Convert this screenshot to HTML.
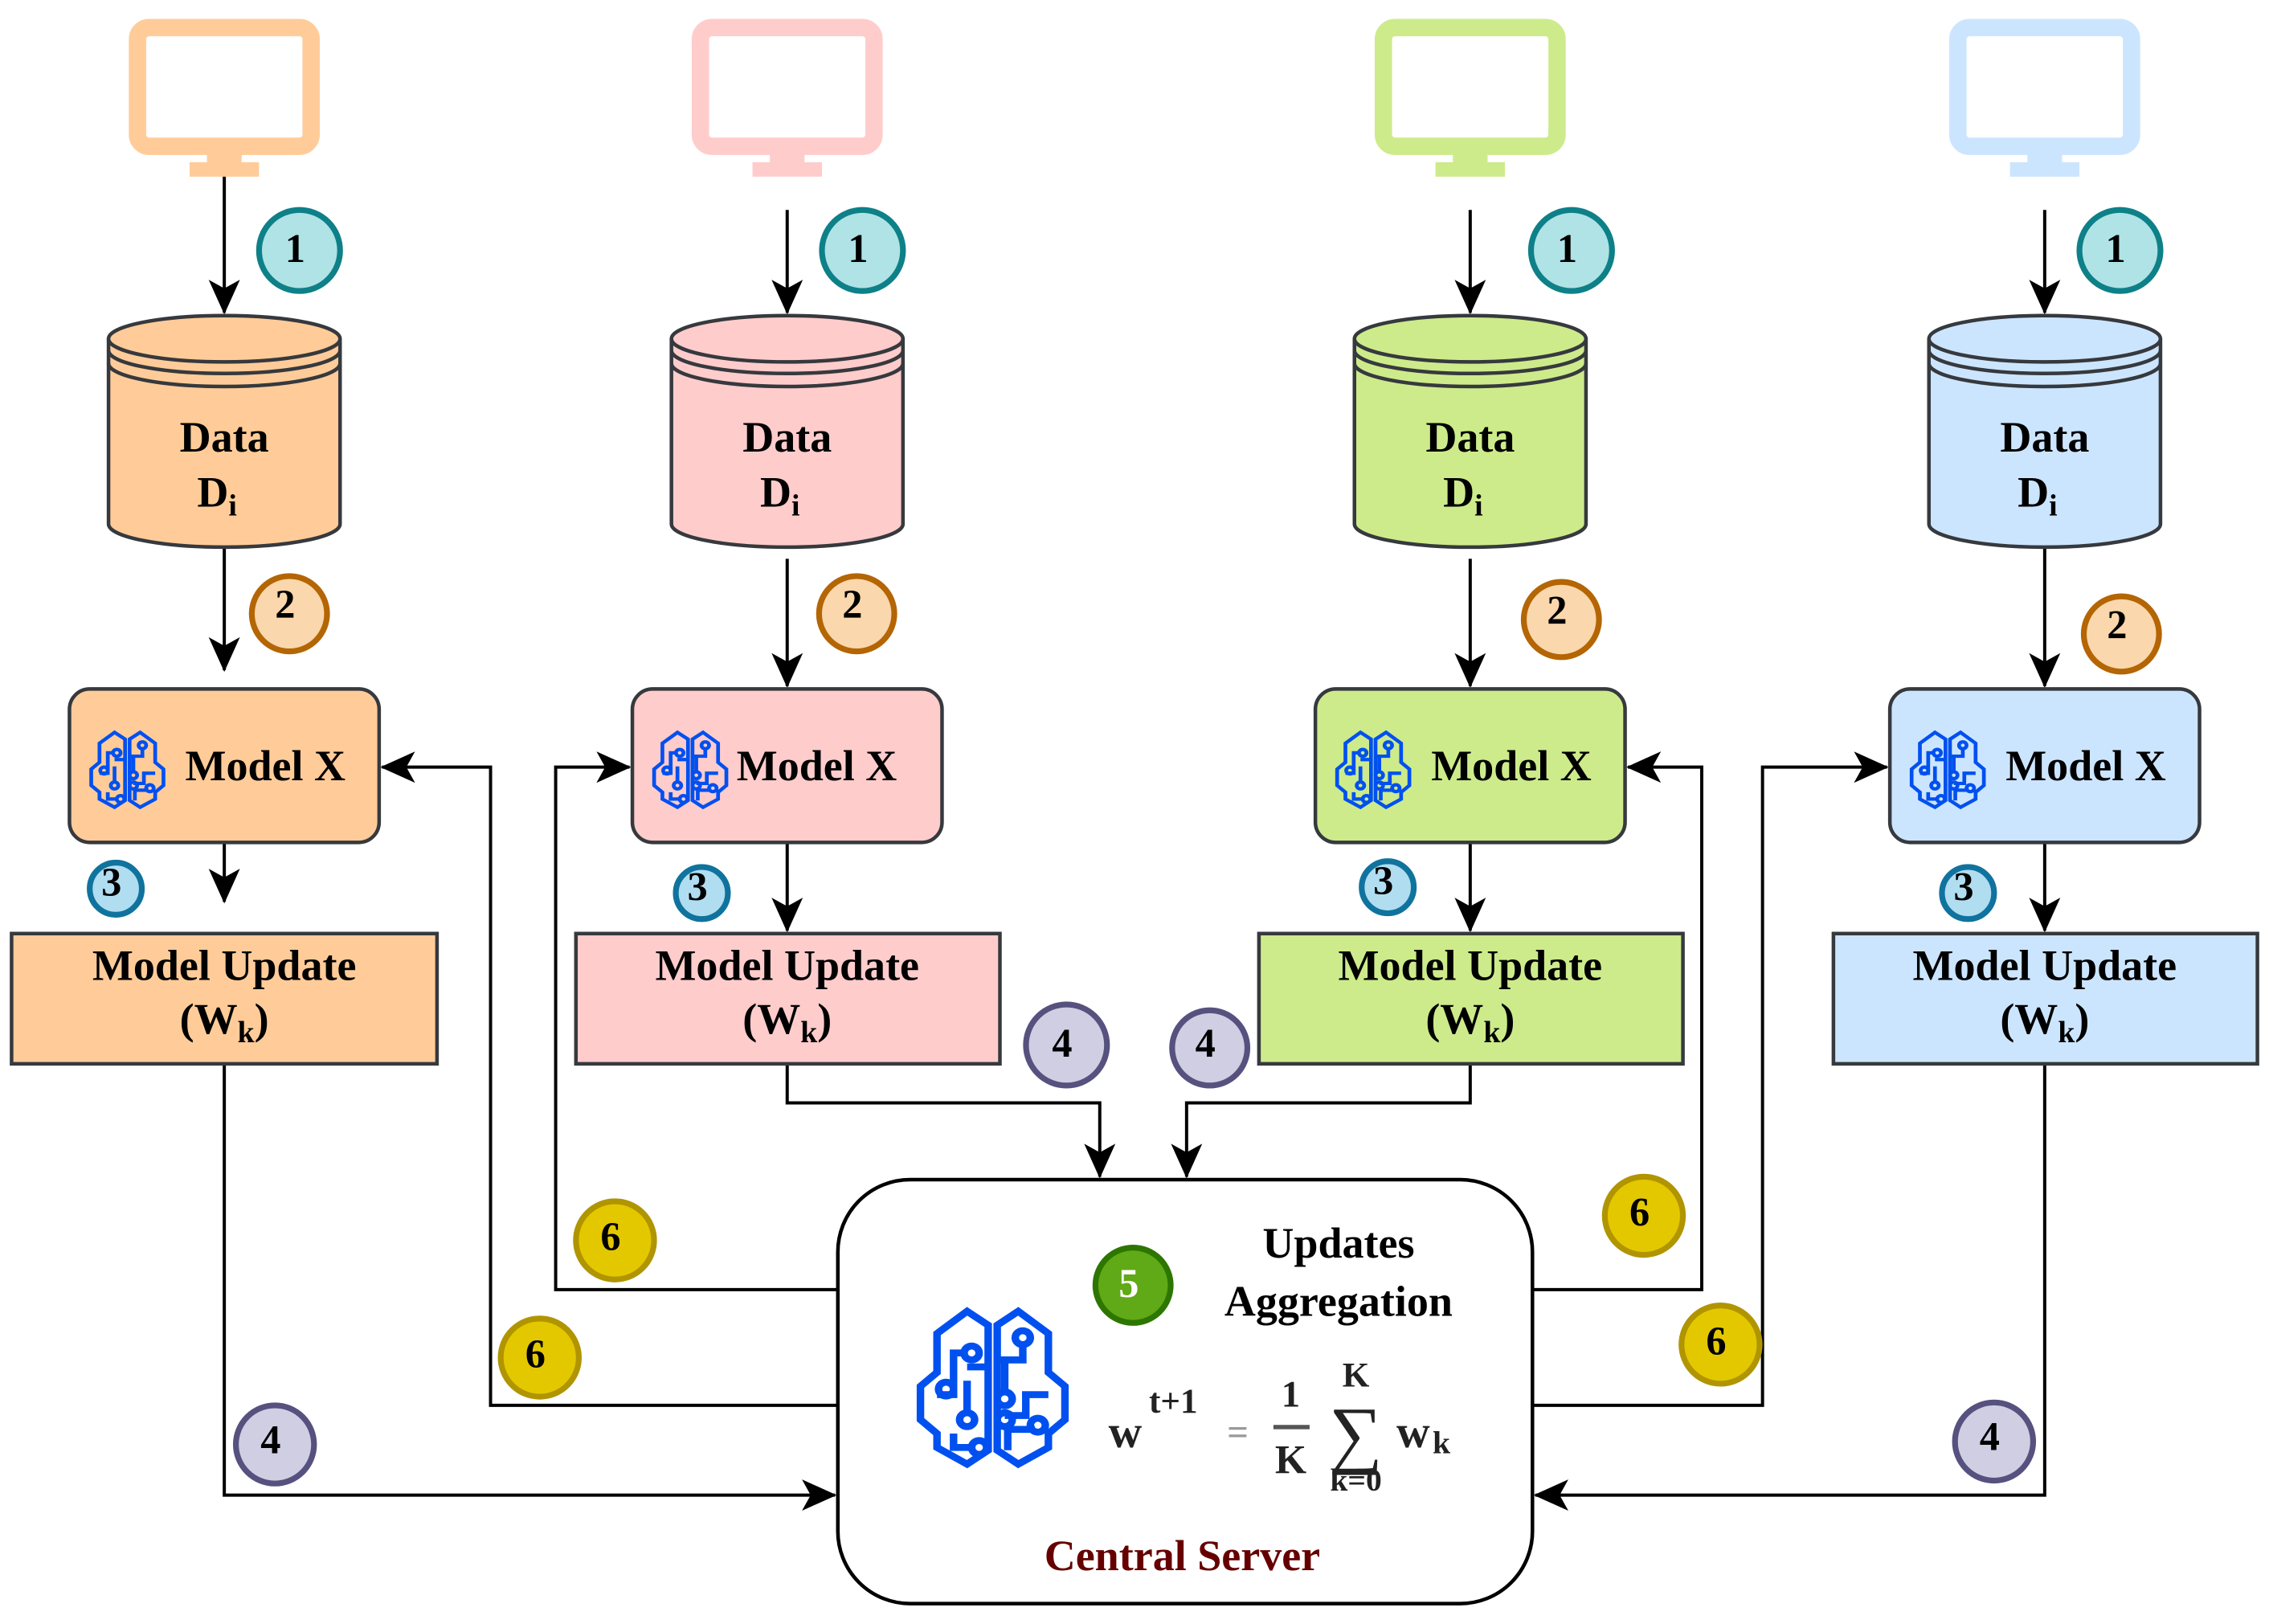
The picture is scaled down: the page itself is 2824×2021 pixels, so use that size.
<!DOCTYPE html>
<html><head><meta charset="utf-8"><style>
html,body{margin:0;padding:0;background:#fff}
svg{display:block}
text{font-family:"Liberation Serif","Times New Roman","DejaVu Serif",serif;font-weight:bold;fill:#000}
</style></head><body>
<svg width="2824" height="2021" viewBox="0 0 1568 1122" xmlns="http://www.w3.org/2000/svg" font-family="Liberation Serif, serif">
<defs>
<marker id="ah" markerUnits="userSpaceOnUse" markerWidth="24" markerHeight="24" viewBox="0 0 20 20" refX="19" refY="10" orient="auto">
<path d="M0,1 L20,10 L0,19 L5,10 Z" fill="#000"/>
</marker>
<g id="brain" fill="none" stroke="#0050ef" stroke-width="5" stroke-linejoin="miter">
<path d="M47,10 L33,0 L13,16 L13,44 L2,54 L2,78 L13,88 L13,98 L33,110 L47,100 Z"/>
<path d="M53,10 L67,0 L87,16 L87,44 L98,54 L98,78 L87,88 L87,98 L67,110 L53,100 Z"/>
<path d="M13,60 L24,60 L24,30 L33,30 M33,50 L33,75 M47,40 L33,40 M24,88 L24,98 L38,98 M53,35 L70,35 L70,22 M58,35 L58,60 M87,60 L72,60 L72,75 L58,75 M60,100 L60,85 L78,85"/>
<circle cx="36" cy="30" r="5"/><circle cx="19" cy="56" r="5"/><circle cx="33" cy="78" r="5"/><circle cx="41" cy="98" r="5"/>
<circle cx="70" cy="19" r="5"/><circle cx="58" cy="63" r="5"/><circle cx="58" cy="78" r="5"/><circle cx="80" cy="82" r="5"/>
</g>
</defs>

<g stroke-width="12" fill="none">
<rect x="95" y="19" width="120" height="82" rx="8" stroke="#FFCC99"/>
<rect x="484" y="19" width="120" height="82" rx="8" stroke="#FFCCCC"/>
<rect x="956" y="19" width="120" height="82" rx="8" stroke="#CDEB8B"/>
<rect x="1353" y="19" width="120" height="82" rx="8" stroke="#CCE5FF"/>
</g>
<g>
<rect x="143" y="100" width="24" height="14" fill="#FFCC99"/><rect x="131" y="112" width="48" height="10" fill="#FFCC99"/>
<rect x="532" y="100" width="24" height="14" fill="#FFCCCC"/><rect x="520" y="112" width="48" height="10" fill="#FFCCCC"/>
<rect x="1004" y="100" width="24" height="14" fill="#CDEB8B"/><rect x="992" y="112" width="48" height="10" fill="#CDEB8B"/>
<rect x="1401" y="100" width="24" height="14" fill="#CCE5FF"/><rect x="1389" y="112" width="48" height="10" fill="#CCE5FF"/>
</g>

<g stroke="#000" stroke-width="2.2" fill="none" marker-end="url(#ah)">
<line x1="155" y1="122" x2="155" y2="216"/>
<line x1="544" y1="145" x2="544" y2="216"/>
<line x1="1016" y1="145" x2="1016" y2="216"/>
<line x1="1413" y1="145" x2="1413" y2="216"/>
<line x1="155" y1="378" x2="155" y2="463"/>
<line x1="544" y1="386" x2="544" y2="474"/>
<line x1="1016" y1="386" x2="1016" y2="474"/>
<line x1="1413" y1="378" x2="1413" y2="474"/>
<line x1="155" y1="582" x2="155" y2="623"/>
<line x1="544" y1="582" x2="544" y2="643"/>
<line x1="1016" y1="582" x2="1016" y2="643"/>
<line x1="1413" y1="582" x2="1413" y2="643"/>
<polyline points="155,735 155,1033 577,1033"/>
<polyline points="544,735 544,762 760,762 760,813"/>
<polyline points="1016,735 1016,762 820,762 820,813"/>
<polyline points="1413,735 1413,1033 1061,1033"/>
<polyline points="579,971 339,971 339,530 264,530"/>
<polyline points="579,891 384,891 384,530 435,530"/>
<polyline points="1059,891 1176,891 1176,530 1125,530"/>
<polyline points="1059,971 1218,971 1218,530 1304,530"/>
</g>

<g stroke="#36393d" stroke-width="2.5">
<g fill="#FFCC99"><path d="M75,234 L75,362 A80,16 0 0 0 235,362 L235,234"/><ellipse cx="155" cy="234" rx="80" ry="16"/><path d="M75,242 A80,16 0 0 0 235,242 M75,251 A80,16 0 0 0 235,251" fill="none"/></g>
<g fill="#FFCCCC" transform="translate(389,0)"><path d="M75,234 L75,362 A80,16 0 0 0 235,362 L235,234"/><ellipse cx="155" cy="234" rx="80" ry="16"/><path d="M75,242 A80,16 0 0 0 235,242 M75,251 A80,16 0 0 0 235,251" fill="none"/></g>
<g fill="#CDEB8B" transform="translate(861,0)"><path d="M75,234 L75,362 A80,16 0 0 0 235,362 L235,234"/><ellipse cx="155" cy="234" rx="80" ry="16"/><path d="M75,242 A80,16 0 0 0 235,242 M75,251 A80,16 0 0 0 235,251" fill="none"/></g>
<g fill="#CCE5FF" transform="translate(1258,0)"><path d="M75,234 L75,362 A80,16 0 0 0 235,362 L235,234"/><ellipse cx="155" cy="234" rx="80" ry="16"/><path d="M75,242 A80,16 0 0 0 235,242 M75,251 A80,16 0 0 0 235,251" fill="none"/></g>
</g>
<g font-size="30" text-anchor="middle">
<text x="155" y="312">Data</text><text x="150" y="350">D<tspan font-size="21" dy="6">i</tspan></text>
<text x="544" y="312">Data</text><text x="539" y="350">D<tspan font-size="21" dy="6">i</tspan></text>
<text x="1016" y="312">Data</text><text x="1011" y="350">D<tspan font-size="21" dy="6">i</tspan></text>
<text x="1413" y="312">Data</text><text x="1408" y="350">D<tspan font-size="21" dy="6">i</tspan></text>
</g>

<g stroke="#36393d" stroke-width="2.5">
<rect x="48" y="476" width="214" height="106" rx="14" fill="#FFCC99"/>
<rect x="437" y="476" width="214" height="106" rx="14" fill="#FFCCCC"/>
<rect x="909" y="476" width="214" height="106" rx="14" fill="#CDEB8B"/>
<rect x="1306" y="476" width="214" height="106" rx="14" fill="#CCE5FF"/>
</g>
<use href="#brain" transform="translate(62,506) scale(0.52,0.47)"/>
<use href="#brain" transform="translate(451,506) scale(0.52,0.47)"/>
<use href="#brain" transform="translate(923,506) scale(0.52,0.47)"/>
<use href="#brain" transform="translate(1320,506) scale(0.52,0.47)"/>
<g font-size="30">
<text x="128" y="539">Model X</text>
<text x="509" y="539">Model X</text>
<text x="989" y="539">Model X</text>
<text x="1386" y="539">Model X</text>
</g>

<g stroke="#36393d" stroke-width="2.5">
<rect x="8" y="645" width="294" height="90" fill="#FFCC99"/>
<rect x="398" y="645" width="293" height="90" fill="#FFCCCC"/>
<rect x="870" y="645" width="293" height="90" fill="#CDEB8B"/>
<rect x="1267" y="645" width="293" height="90" fill="#CCE5FF"/>
</g>
<g font-size="30" text-anchor="middle">
<text x="155" y="677">Model Update</text><text x="155" y="714">(W<tspan font-size="21" dy="6">k</tspan><tspan dy="-6">)</tspan></text>
<text x="544" y="677">Model Update</text><text x="544" y="714">(W<tspan font-size="21" dy="6">k</tspan><tspan dy="-6">)</tspan></text>
<text x="1016" y="677">Model Update</text><text x="1016" y="714">(W<tspan font-size="21" dy="6">k</tspan><tspan dy="-6">)</tspan></text>
<text x="1413" y="677">Model Update</text><text x="1413" y="714">(W<tspan font-size="21" dy="6">k</tspan><tspan dy="-6">)</tspan></text>
</g>

<rect x="579" y="815" width="480" height="293" rx="50" fill="#fff" stroke="#000" stroke-width="2.5"/>
<use href="#brain" transform="translate(634,906) scale(1.04,0.96)"/>
<g font-size="30" text-anchor="middle">
<text x="925" y="869">Updates</text>
<text x="925" y="909">Aggregation</text>
<text x="817" y="1085" style="fill:#660000">Central Server</text>
</g>
<g>
<text x="766" y="1000" font-size="32" style="fill:#222">w</text>
<text x="794" y="976" font-size="24" style="fill:#222">t+1</text>
<text x="848" y="998" font-size="26" style="fill:#999">=</text>
<text x="892" y="972" font-size="26" text-anchor="middle" style="fill:#222">1</text>
<line x1="880" y1="986" x2="905" y2="986" stroke="#555" stroke-width="3"/>
<text x="892" y="1018" font-size="28" text-anchor="middle" style="fill:#222">K</text>
<text x="937" y="958" font-size="24" text-anchor="middle" style="fill:#222">K</text>
<text x="937" y="1008" font-size="52" text-anchor="middle" style="fill:#222;font-weight:normal">∑</text>
<text x="937" y="1030" font-size="22" text-anchor="middle" style="fill:#222">k=0</text>
<text x="965" y="1000" font-size="32" style="fill:#222">w</text>
<text x="990" y="1004" font-size="22" style="fill:#222">k</text>
</g>

<g stroke-width="4">
<g fill="#B0E3E6" stroke="#0e8088">
<circle cx="207" cy="173" r="28"/><circle cx="596" cy="173" r="28"/><circle cx="1086" cy="173" r="28"/><circle cx="1465" cy="173" r="28"/>
</g>
<g fill="#FAD7AC" stroke="#b46504">
<circle cx="200" cy="424" r="26"/><circle cx="592" cy="424" r="26"/><circle cx="1079" cy="428" r="26"/><circle cx="1466" cy="438" r="26"/>
</g>
<g fill="#B1DDF0" stroke="#10739e">
<circle cx="80" cy="614" r="18"/><circle cx="485" cy="617" r="18"/><circle cx="959" cy="613" r="18"/><circle cx="1360" cy="617" r="18"/>
</g>
<g fill="#D0CEE2" stroke="#56517e">
<circle cx="737" cy="722" r="28"/><circle cx="836" cy="724" r="26"/><circle cx="190" cy="998" r="27"/><circle cx="1378" cy="996" r="27"/>
</g>
<g fill="#E3C800" stroke="#B09500">
<circle cx="425" cy="857" r="27"/><circle cx="373" cy="938" r="27"/><circle cx="1136" cy="840" r="27"/><circle cx="1189" cy="929" r="27"/>
</g>
<circle cx="783" cy="888" r="26" fill="#60A917" stroke="#2D7600"/>
</g>
<g font-size="28" text-anchor="middle">
<text x="204" y="181">1</text><text x="593" y="181">1</text><text x="1083" y="181">1</text><text x="1462" y="181">1</text>
<text x="197" y="427">2</text><text x="589" y="427">2</text><text x="1076" y="431">2</text><text x="1463" y="441">2</text>
<text x="77" y="619">3</text><text x="482" y="622">3</text><text x="956" y="618">3</text><text x="1357" y="622">3</text>
<text x="734" y="730">4</text><text x="833" y="730">4</text><text x="187" y="1004">4</text><text x="1375" y="1002">4</text>
<text x="422" y="864">6</text><text x="370" y="945">6</text><text x="1133" y="847">6</text><text x="1186" y="936">6</text>
<text x="780" y="896" style="fill:#fff">5</text>
</g>
</svg>
</body></html>
